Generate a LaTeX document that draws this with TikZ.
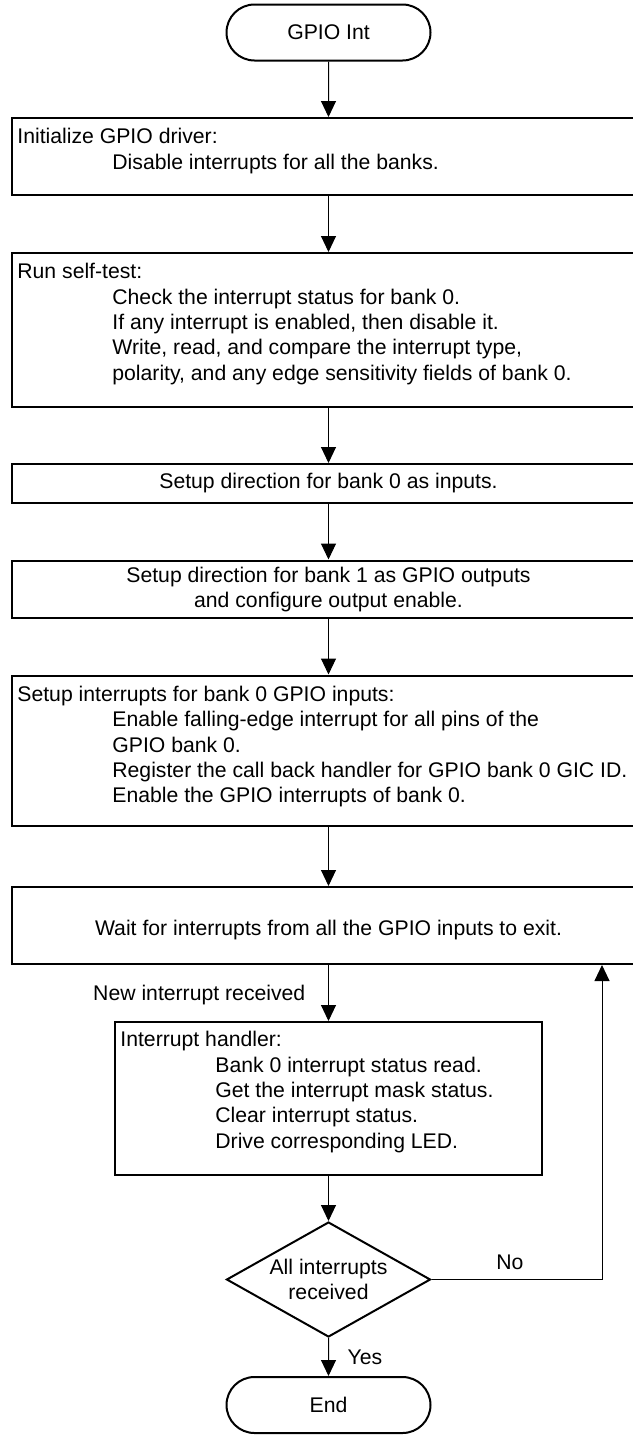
\documentclass[tikz,border=0pt]{standalone}
\usepackage{fontspec}
\setmainfont{Liberation Sans}
\usetikzlibrary{arrows.meta,shapes.misc,shapes.geometric}

\newcommand\stepin{\hspace*{47.5pt}}

\begin{document}
\begin{tikzpicture}[x=0.5pt, y=-0.5pt,
    font=\fontsize{10.6pt}{12.7pt}\selectfont,
    box/.style={draw, line width=1pt, rectangle, inner sep=0pt, minimum width=\boxW, align=center},
    term/.style={draw, line width=1pt, rounded rectangle, inner sep=0pt, minimum width=102pt, minimum height=28pt},
    decide/.style={draw, line width=1pt, diamond, aspect=1.77, inner sep=0pt, minimum width=102pt, minimum height=57.5pt, align=center},
    txt/.style={inner sep=0pt, align=left, anchor=north west},
    flow/.style={line width=0.5pt, -{Triangle[length=8pt, width=7.5pt]}}]

  % === GPIO interrupt example -- flow chart ===
  % one unit = one pixel of the 632 x 1435 page, y runs downward

  \def\boxW{316.5pt}  % width of the wide boxes (cut by the page edge)
  \def\midX{328.5}    % main axis

  \useasboundingbox (0,0) rectangle (632,1435);

  % Start
  \node[term] (start) at (\midX, 32.5) {GPIO Int};

  % Driver init
  \node[box, minimum height=38.5pt] (init) at (\midX, 156.5) {};
  \node[txt] at ([shift={(6,11)}]init.north west)
    {Initialize GPIO driver:\\
     \stepin Disable interrupts for all the banks.};

  % Self-test
  \node[box, minimum height=76.75pt] (selftest) at (\midX, 329.75) {};
  \node[txt] at ([shift={(6,11)}]selftest.north west)
    {Run self-test:\\
     \stepin Check the interrupt status for bank 0.\\
     \stepin If any interrupt is enabled, then disable it.\\
     \stepin Write, read, and compare the interrupt type,\\
     \stepin polarity, and any edge sensitivity fields of bank 0.};

  % Directions
  \node[box, minimum height=19.5pt] (dirin) at (\midX, 483.5)
    {Setup direction for bank 0 as inputs.};
  \node[box, minimum height=28.75pt] (dirout) at (\midX, 589.25)
    {Setup direction for bank 1 as GPIO outputs\\and configure output enable.};

  % Interrupt setup
  \node[box, minimum height=75.25pt] (setupint) at (\midX, 750.75) {};
  \node[txt] at ([shift={(6,11)}]setupint.north west)
    {Setup interrupts for bank 0 GPIO inputs:\\
     \stepin Enable falling-edge interrupt for all pins of the\\
     \stepin GPIO bank 0.\\
     \stepin Register the call back handler for GPIO bank 0 GIC ID.\\
     \stepin Enable the GPIO interrupts of bank 0.};

  % Wait loop
  \node[box, minimum height=38.5pt, text height=12.5pt, text depth=2.2pt] (wait) at (\midX, 925.5)
    {Wait for interrupts from all the GPIO inputs to exit.};

  % Handler
  \node[box, minimum width=213.5pt, minimum height=76.5pt] (handler) at (\midX, 1098.5) {};
  \node[txt] at ([shift={(6,10)}]handler.north west)
    {Interrupt handler:\\
     \stepin Bank 0 interrupt status read.\\
     \stepin Get the interrupt mask status.\\
     \stepin Clear interrupt status.\\
     \stepin Drive corresponding LED.};

  % Decision and end
  \node[decide] (decision) at (\midX, 1279.5) {All interrupts\\received};
  \node[term] (finish) at (\midX, 1405) {End};

  \coordinate (loopx) at (602, 0);

  % === Connectors ===
  \draw[flow] (start) -- (init);
  \draw[flow] (init) -- (selftest);
  \draw[flow] (selftest) -- (dirin);
  \draw[flow] (dirin) -- (dirout);
  \draw[flow] (dirout) -- (setupint);
  \draw[flow] (setupint) -- (wait);
  \draw[flow] (wait) -- node[left, xshift=-8pt, yshift=-1pt] {New interrupt received} (handler);
  \draw[flow] (handler) -- (decision);
  \draw[flow] (decision) -- node[right, xshift=6pt] {Yes} (finish);
  \draw[flow] (decision.east) -| node[pos=0.23, above=1.5pt] {No} (loopx |- wait.south);

\end{tikzpicture}
\end{document}
